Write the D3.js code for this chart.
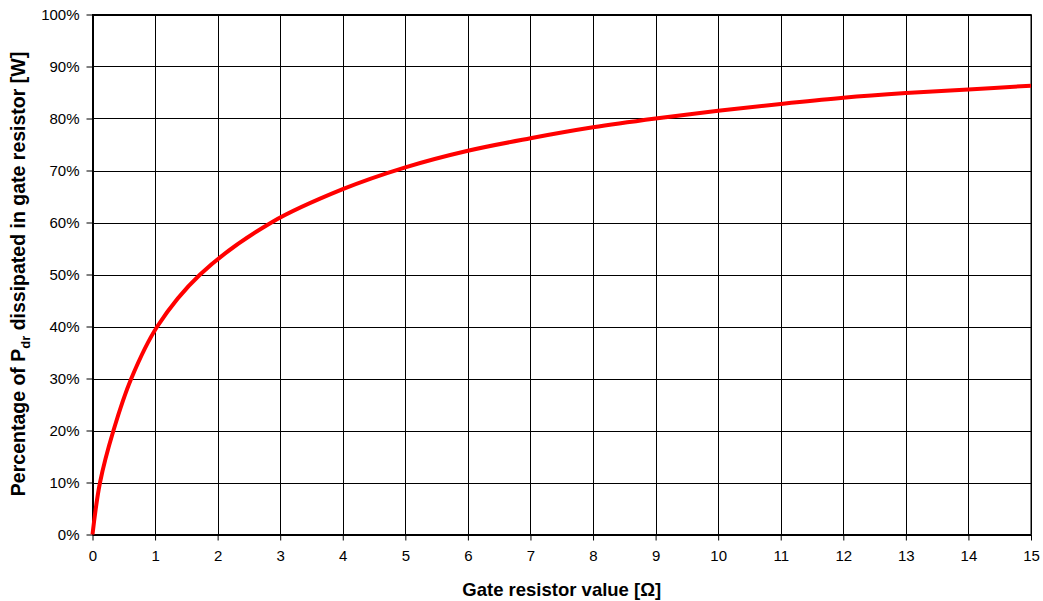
<!DOCTYPE html>
<html><head><meta charset="utf-8">
<script src="https://cdn.jsdelivr.net/npm/d3@7"></script>
<style>
html,body{margin:0;padding:0;background:#fff;}
svg{display:block;font-family:"Liberation Sans",Arial,sans-serif;}
</style></head>
<body>
<svg id="chart" width="1043" height="601"></svg>
<script>
const resistance = [0,0.12,0.335,0.62,1.035,1.72,2.86,4,5,6,7,8,9,10,11,12,13,14,15];
const percentage = [0,10,20,30,40,50,60,66.4,70.6,73.8,76.2,78.3,80.0,81.5,82.8,84.0,84.9,85.6,86.3];
const xTicks = [0,1,2,3,4,5,6,7,8,9,10,11,12,13,14,15];
const yTicks = [0,10,20,30,40,50,60,70,80,90,100];

const svg = d3.select("#chart");
const L=92.5, R=1031, T=14.5, B=534.5;
const x = d3.scaleLinear().domain([0,15]).range([L,R]);
const y = d3.scaleLinear().domain([0,100]).range([B,T]);

// gridlines
svg.append("g").selectAll("line").data(xTicks).join("line")
  .attr("x1",d=>Math.round(x(d))+0.5).attr("x2",d=>Math.round(x(d))+0.5)
  .attr("y1",T).attr("y2",B).attr("stroke","#000").attr("stroke-width",1);
svg.append("g").selectAll("line").data(yTicks).join("line")
  .attr("y1",d=>Math.round(y(d))+0.5).attr("y2",d=>Math.round(y(d))+0.5)
  .attr("x1",L).attr("x2",R).attr("stroke","#000").attr("stroke-width",1);

// axes
const xAxis = d3.axisBottom(x).tickValues(xTicks).tickSize(6).tickSizeOuter(0).tickPadding(10).tickFormat(d3.format("d"));
const yAxis = d3.axisLeft(y).tickValues(yTicks).tickSize(6).tickSizeOuter(0).tickPadding(7).tickFormat(d=>d+"%");
const gx = svg.append("g").attr("transform",`translate(0,${B})`).call(xAxis);
const gy = svg.append("g").attr("transform",`translate(${L},0)`).call(yAxis);
[gx,gy].forEach(g=>{
  g.select(".domain").attr("stroke","#000");
  g.selectAll(".tick line").attr("stroke","#000");
  g.selectAll(".tick text").attr("fill","#000").style("font-size","15px").style("font-family","'Liberation Sans',Arial,sans-serif");
});

// border
svg.append("rect").attr("x",L).attr("y",T).attr("width",R-L).attr("height",B-T)
  .attr("fill","none").attr("stroke","#000").attr("stroke-width",1);

// curve
const line = d3.line().x((d,i)=>x(resistance[i])).y(d=>y(d)).curve(d3.curveCatmullRom.alpha(0.5));
svg.append("path").datum(percentage).attr("d",line)
  .attr("fill","none").attr("stroke","#ff0000").attr("stroke-width",4).attr("stroke-linejoin","round");

// titles
svg.append("text").attr("x",(L+R)/2).attr("y",596).attr("text-anchor","middle")
  .style("font-size","18.5px").style("font-weight","bold").text("Gate resistor value [Ω]");
const yt = svg.append("text").attr("transform",`translate(25,274) rotate(-90)`)
  .attr("text-anchor","middle").style("font-size","19.5px").style("font-weight","bold");
yt.append("tspan").text("Percentage of P");
yt.append("tspan").attr("dy",5).style("font-size","13px").text("dr");
yt.append("tspan").attr("dy",-5).text(" dissipated in gate resistor [W]");
</script>
</body></html>
